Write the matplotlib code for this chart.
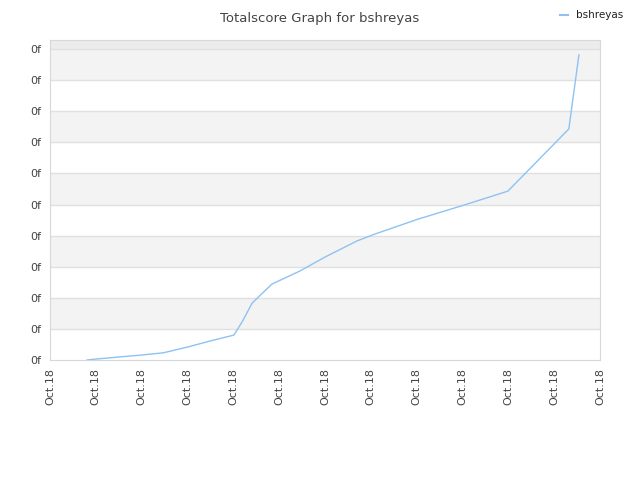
import numpy as np
import matplotlib.pyplot as plt
from matplotlib.lines import Line2D

# time axis in tick units, score in tick units (labels are all the same in the source)
days = [0.81, 1.0, 1.53, 2.0, 2.47, 3.01, 3.49, 4.01, 4.19, 4.41, 4.84,
        5.45, 6.0, 6.70, 7.09, 8.03, 9.03, 9.99, 11.32, 11.54]
score = [0.0, 0.03, 0.10, 0.16, 0.23, 0.42, 0.61, 0.80, 1.22, 1.83, 2.44,
         2.86, 3.31, 3.83, 4.05, 4.53, 4.98, 5.43, 7.43, 9.81]
xticks = np.arange(0, 13)
yticks = np.arange(0, 11)
xlabels = ['Oct.18'] * len(xticks)
ylabels = ['0f'] * len(yticks)

fig = plt.figure(figsize=(6.4, 4.8), dpi=100)
ax = fig.add_axes([50/640, 120/480, 550/640, 320/480])

ax.set_xlim(0, 12)
ax.set_ylim(0, 10.29)

# alternating bands
for i in range(10):
    if i % 2 == 1:
        ax.axhspan(i, i + 1, color='#f3f3f3', zorder=0, lw=0)
ax.axhspan(10, 10.29, color='#ececec', zorder=0, lw=0)
for y in yticks[1:]:
    ax.axhline(y, color='#e0e0e0', lw=1, zorder=1)

ax.plot(days, score, color='#8ec2f2', lw=1, zorder=3)

ax.set_xticks(xticks)
ax.set_xticklabels(xlabels, rotation=90, fontsize=8, color='#444444')
ax.set_yticks(yticks)
ax.set_yticklabels(ylabels, fontsize=8, color='#444444')
ax.tick_params(length=0, pad=6)

for s in ax.spines.values():
    s.set_color('#d8d8d8')

fig.text(0.5, 0.975, 'Totalscore Graph for bshreyas', ha='center', va='top',
         fontsize=9.5, color='#444444')
leg = ax.legend([Line2D([0], [0], color='#8ec2f2', lw=1.5)], ['bshreyas'],
                loc='upper right', bbox_to_anchor=(1.0 - 7/640, 1.0 - 1/480),
                bbox_transform=fig.transFigure,
                frameon=False, fontsize=7.5, handlelength=0.8, handletextpad=0.8)
for t in leg.get_texts():
    t.set_color('#222222')

fig.savefig('out.png', dpi=100)
